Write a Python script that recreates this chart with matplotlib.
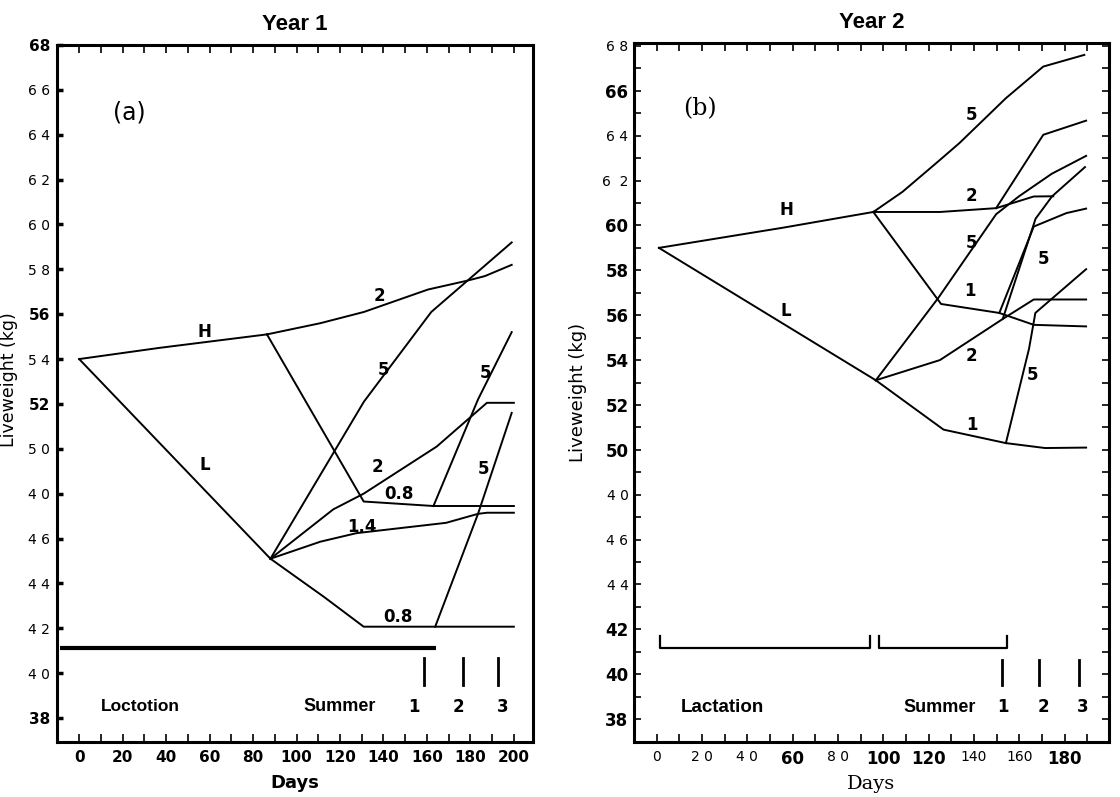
import matplotlib
matplotlib.use("Agg")
import matplotlib.pyplot as plt
from matplotlib.ticker import MultipleLocator

# ---- Year 1 (a): liveweight paths, days vs kg ----
a_H_x = [0, 37, 86.4]
a_H_y = [54.0, 54.5, 55.1]
a_H2_x = [86.4, 111, 131, 160.5, 178.8, 186.7, 199]
a_H2_y = [55.1, 55.6, 56.1, 57.1, 57.5, 57.7, 58.2]
a_H08_x = [86.4, 130.9, 163, 200]
a_H08_y = [55.1, 47.65, 47.45, 47.45]
a_H08_5_x = [163, 183.5, 199]
a_H08_5_y = [47.45, 52.2, 55.2]
a_L_x = [0, 88]
a_L_y = [54.0, 45.1]
a_L5_x = [88, 131, 162, 199]
a_L5_y = [45.1, 52.1, 56.1, 59.2]
a_L2_x = [88, 116.9, 130.9, 164.5, 187.6, 200]
a_L2_y = [45.1, 47.3, 48.0, 50.1, 52.05, 52.05]
a_L14_x = [88, 111, 127.6, 168.8, 183.5, 187.6, 200]
a_L14_y = [45.1, 45.86, 46.24, 46.7, 47.1, 47.15, 47.15]
a_L08_x = [88, 112.6, 130.9, 163.8, 200]
a_L08_y = [45.1, 43.4, 42.07, 42.07, 42.07]
a_L08_5_x = [163.8, 183.5, 199]
a_L08_5_y = [42.07, 47.1, 51.6]

a_labels = [("H", 57.6, 55.2), ("L", 57.6, 49.3), ("2", 138, 56.8), ("5", 140, 53.5),
            ("2", 137, 49.2), ("0.8", 147.3, 48.0), ("1.4", 130, 46.5),
            ("0.8", 146.5, 42.5), ("5", 186.8, 53.4), ("5", 186, 49.1)]
a_yticks = [38, 40, 42, 44, 46, 48, 50, 52, 54, 56, 58, 60, 62, 64, 66, 68]
a_yticklabels = ["38", "4 0", "4 2", "4 4", "4 6", "4 0", "5 0", "52", "5 4", "56",
                 "5 8", "6 0", "6 2", "6 4", "6 6", "68"]
a_bold = {"38", "52", "56", "68"}
a_xticks = [0, 20, 40, 60, 80, 100, 120, 140, 160, 180, 200]
a_marks = [158.8, 176.6, 192.9]
a_period_labels = [("1", 154), ("2", 174.5), ("3", 195)]

# ---- Year 2 (b) ----
b_H_x = [1, 55.8, 95.6]
b_H_y = [59.0, 59.9, 60.6]
b_L_x = [1, 96.7]
b_L_y = [59.0, 53.1]
b_H5_x = [95.6, 108.5, 124.2, 133.6, 154.1, 170.6, 188.7]
b_H5_y = [60.6, 61.5, 62.85, 63.67, 65.67, 67.08, 67.6]
b_H2_x = [95.6, 125, 149.8, 166.4, 175]
b_H2_y = [60.6, 60.6, 60.77, 61.29, 61.3]
b_H2_5_x = [149.8, 170.6, 189.5]
b_H2_5_y = [60.77, 64.04, 64.67]
b_H1_x = [95.6, 125.5, 151.2, 166.4, 189.5]
b_H1_y = [60.6, 56.5, 56.1, 55.57, 55.5]
b_H1_5_x = [151.2, 166.4, 180.8, 189.5]
b_H1_5_y = [56.1, 59.95, 60.55, 60.75]
b_L5_x = [96.7, 124.2, 149.8, 159.9, 174.3, 189.5]
b_L5_y = [53.1, 56.76, 60.5, 61.3, 62.3, 63.1]
b_L2_x = [96.7, 125, 152.7, 166.4, 189.5]
b_L2_y = [53.1, 54.0, 55.83, 56.7, 56.7]
b_L2_5_x = [152.7, 167.2, 174.5, 189.0]
b_L2_5_y = [55.83, 60.3, 61.3, 62.6]
b_L1_x = [96.7, 126.6, 154.1, 171.4, 189.5]
b_L1_y = [53.1, 50.9, 50.3, 50.08, 50.1]
b_L1_5_x = [154.1, 164.3, 167.1, 189.5]
b_L1_5_y = [50.3, 54.5, 56.1, 58.05]

b_labels = [("H", 57.4, 60.7), ("L", 57, 56.2), ("5", 139, 64.9), ("2", 139, 61.3),
            ("5", 139, 59.2), ("1", 138.4, 57.1), ("5", 170.6, 58.5),
            ("2", 139, 54.2), ("5", 166, 53.35), ("1", 139, 51.1)]
b_yticks = [38, 40, 42, 44, 46, 48, 50, 52, 54, 56, 58, 60, 62, 64, 66, 68]
b_yticklabels = ["38", "40", "42", "4 4", "4 6", "4 0", "50", "52", "54", "56",
                 "58", "60", "6  2", "6 4", "66", "6 8"]
b_bold = {"38", "40", "42", "50", "52", "54", "56", "58", "60", "66"}
b_xticks = [0, 20, 40, 60, 80, 100, 120, 140, 160, 180]
b_xticklabels = ["0", "2 0", "4 0", "60", "8 0", "100", "120", "140", "160", "180"]
b_xbold = {"60", "100", "120", "180"}
b_brackets = [(1.3, 94.3), (98, 154.4)]
b_marks = [152.2, 168.7, 186.3]
b_period_labels = [("1", 153), ("2", 170.6), ("3", 188)]

fig = plt.figure(figsize=(11.2, 7.97), dpi=100)
ax1 = fig.add_axes([57 / 1120, 55 / 797, 476 / 1120, 697 / 797])
ax2 = fig.add_axes([634 / 1120, 55 / 797, 475 / 1120, 699 / 797])

lw = 1.4
for xs, ys in [(a_H_x, a_H_y), (a_H2_x, a_H2_y), (a_H08_x, a_H08_y), (a_H08_5_x, a_H08_5_y),
               (a_L_x, a_L_y), (a_L5_x, a_L5_y), (a_L2_x, a_L2_y), (a_L14_x, a_L14_y),
               (a_L08_x, a_L08_y), (a_L08_5_x, a_L08_5_y)]:
    ax1.plot(xs, ys, color="black", lw=lw)

for xs, ys in [(b_H_x, b_H_y), (b_L_x, b_L_y), (b_H5_x, b_H5_y), (b_H2_x, b_H2_y),
               (b_H2_5_x, b_H2_5_y), (b_H1_x, b_H1_y), (b_H1_5_x, b_H1_5_y),
               (b_L5_x, b_L5_y), (b_L2_x, b_L2_y), (b_L2_5_x, b_L2_5_y),
               (b_L1_x, b_L1_y), (b_L1_5_x, b_L1_5_y)]:
    ax2.plot(xs, ys, color="black", lw=lw)

for txt, x, y in a_labels:
    ax1.text(x, y, txt, fontsize=12, fontweight="bold", ha="center", va="center")
for txt, x, y in b_labels:
    ax2.text(x, y, txt, fontsize=12, fontweight="bold", ha="center", va="center")

# season / period markers
ax1.plot([-9, 164], [41.1, 41.1], color="black", lw=3, solid_capstyle="butt")
for x in a_marks:
    ax1.plot([x, x], [39.47, 40.66], color="black", lw=2)
ax1.text(28, 38.5, "Loctotion", fontsize=12.5, fontweight="bold", ha="center", va="center",
         family="Liberation Sans")
ax1.text(120, 38.5, "Summer", fontsize=13, fontweight="bold", ha="center", va="center",
         family="Liberation Sans")
for txt, x in a_period_labels:
    ax1.text(x, 38.5, txt, fontsize=12, fontweight="bold", ha="center", va="center")
ax1.text(23, 65.0, "(a)", fontsize=17, ha="center", va="center")

for x0, x1 in b_brackets:
    ax2.plot([x0, x0, x1, x1], [41.7, 41.17, 41.17, 41.7], color="black", lw=1.6)
for x in b_marks:
    ax2.plot([x, x], [39.5, 40.65], color="black", lw=2)
ax2.text(29, 38.5, "Lactation", fontsize=13.5, fontweight="bold", ha="center", va="center",
         family="Liberation Sans")
ax2.text(125, 38.5, "Summer", fontsize=13, fontweight="bold", ha="center", va="center",
         family="Liberation Sans")
for txt, x in b_period_labels:
    ax2.text(x, 38.55, txt, fontsize=12, fontweight="bold", ha="center", va="center")
ax2.text(18.9, 65.2, "(b)", fontsize=17, family="DejaVu Serif", ha="center", va="center")

# axes setup
ax1.set_xlim(-10.2, 208.8)
ax1.set_ylim(36.93, 68.0)
ax2.set_xlim(-10.0, 199.6)
ax2.set_ylim(36.98, 68.13)

ax1.set_xticks(a_xticks)
ax1.set_xticklabels([str(v) for v in a_xticks], fontsize=11, fontweight="bold")
ax1.xaxis.set_minor_locator(MultipleLocator(10))
ax1.set_yticks(a_yticks)
ax1.set_yticklabels(a_yticklabels, fontsize=10)
for lab in ax1.get_yticklabels():
    if lab.get_text() in a_bold:
        lab.set_fontweight("bold")
        lab.set_fontsize(11)
ax1.tick_params(axis="x", which="both", direction="in", length=6, width=1.2,
                top=True, pad=6)
ax1.tick_params(axis="y", which="both", direction="in", length=4, width=2.5, pad=5)

ax2.set_xticks(b_xticks)
ax2.set_xticklabels(b_xticklabels, fontsize=10)
for lab in ax2.get_xticklabels():
    if lab.get_text() in b_xbold:
        lab.set_fontweight("bold")
        lab.set_fontsize(12)
ax2.xaxis.set_minor_locator(MultipleLocator(10))
ax2.set_yticks(b_yticks)
ax2.set_yticklabels(b_yticklabels, fontsize=10)
for lab in ax2.get_yticklabels():
    if lab.get_text() in b_bold:
        lab.set_fontweight("bold")
        lab.set_fontsize(12)
ax2.yaxis.set_minor_locator(MultipleLocator(1))
ax2.tick_params(axis="x", which="both", direction="in", length=6, width=1.2,
                top=True, pad=6)
ax2.tick_params(axis="y", which="both", direction="in", length=5, width=1.2,
                right=True, pad=4)

for ax in (ax1, ax2):
    for side in ax.spines.values():
        side.set_linewidth(2.2)

ax1.set_title("Year 1", fontsize=16, fontweight="bold", family="Liberation Sans", pad=11)
ax2.set_title("Year 2", fontsize=16, fontweight="bold", family="Liberation Sans", pad=11)
ax1.set_xlabel("Days", fontsize=13, fontweight="bold", labelpad=6)
ax2.set_xlabel("Days", fontsize=14, family="DejaVu Serif", labelpad=5)
ax1.set_ylabel("Liveweight (kg)", fontsize=12.5)
ax2.set_ylabel("Liveweight (kg)", fontsize=13)
ax1.yaxis.set_label_coords(-0.082, 0.52)
ax2.yaxis.set_label_coords(-0.099, 0.5)

fig.savefig("out.png", dpi=100)
